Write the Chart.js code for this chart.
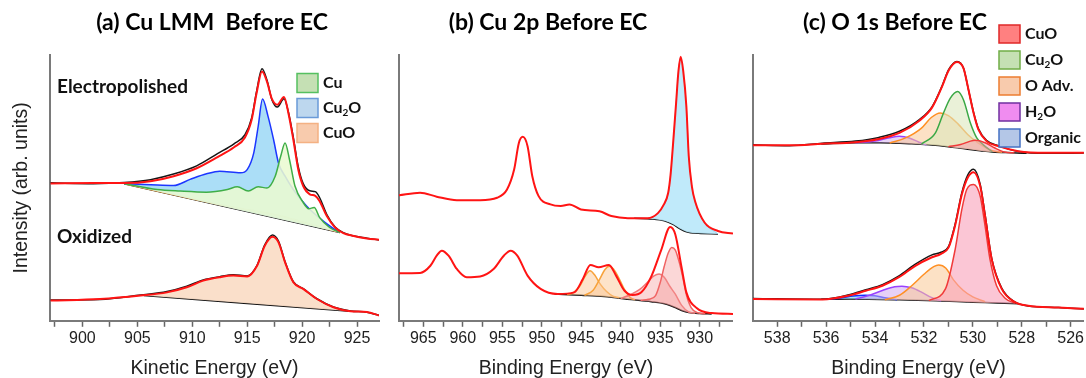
<!DOCTYPE html>
<html>
<head>
<meta charset="utf-8">
<script src="https://cdn.jsdelivr.net/npm/chart.js"></script>
<style>
  html, body { margin: 0; padding: 0; background: #fff; overflow: hidden; }
  #wrap { position: relative; width: 1086px; height: 378px; }
  canvas { position: absolute; top: 0; }
</style>
</head>
<body>
<div id="wrap">
  <canvas id="chartA" width="424" height="378" style="left:0px"></canvas>
  <canvas id="chartB" width="370" height="378" style="left:363px"></canvas>
  <canvas id="chartC" width="382" height="378" style="left:704px"></canvas>
</div>
<script>
// ---- text ----
const titles = ['(a) Cu LMM  Before EC', '(b) Cu 2p Before EC', '(c) O 1s Before EC'];
const spectrumLabels = ['Electropolished', 'Oxidized'];
const legendA = ['Cu', 'Cu₂O', 'CuO'];
const legendC = ['CuO', 'Cu₂O', 'O Adv.', 'H₂O', 'Organic'];
const ticksA = [900, 905, 910, 915, 920, 925];
const ticksB = [930, 935, 940, 945, 950, 955, 960, 965];
const ticksC = [526, 528, 530, 532, 534, 536, 538];

// ---- (a) Cu LMM, [kinetic energy eV, intensity] ----
const aTopFit = [[897.1,51.7],[901.0,51.8],[903.8,51.8],[906.2,52.5],[908.3,54.4],[910.4,57.4],[912.3,61.6],[913.8,65.3],[914.8,69.0],[915.4,75.5],[915.85,85.5],[916.35,93.8],[916.8,90.0],[917.25,83.5],[917.75,81.3],[918.35,84.2],[918.75,78.2],[919.2,68.2],[919.65,56.9],[920.1,50.7],[920.7,47.6],[921.2,47.0],[921.6,45.0],[922.25,39.4],[923.0,35.1],[923.75,33.0],[924.6,32.0],[925.9,31.0],[927.0,30.5]];
const aTopData = [[897.1,51.9],[901.0,51.6],[903.8,52.0],[906.2,53.1],[908.3,55.2],[910.4,58.3],[912.3,62.9],[913.8,66.6],[914.8,70.0],[915.4,76.2],[915.85,86.2],[916.35,94.8],[916.8,90.6],[917.25,83.2],[917.75,80.4],[918.35,83.5],[918.75,78.6],[919.2,69.0],[919.65,58.0],[920.1,51.6],[920.7,48.9],[921.2,48.6],[921.6,46.3],[922.25,40.0],[923.0,35.3],[923.75,33.2],[924.6,32.0],[925.9,31.1],[927.0,30.4]];
const aTopBg = [[903.8,51.6],[923.45,33.2]];
const aTopCu2O = [[903.8,51.6],[906.2,51.2],[908.3,50.9],[909.8,53.2],[911.3,55.3],[912.5,56.3],[914.4,55.7],[915.0,56.9],[915.6,63.2],[916.0,73.1],[916.4,83.4],[916.9,76.9],[917.4,68.2],[917.85,59.4],[918.45,54.4],[919.2,49.4],[920.4,43.2],[921.9,37.6],[923.3,33.4]];
const aTopCu = [[903.8,51.6],[906.8,49.4],[908.9,48.8],[911.3,48.4],[913.2,49.4],[914.1,50.4],[915.1,48.8],[916.0,50.4],[916.8,50.0],[917.55,54.4],[918.05,61.9],[918.45,66.9],[918.85,60.7],[919.35,50.7],[920.1,44.5],[920.6,42.2],[921.1,42.6],[921.6,38.8],[922.5,35.1],[923.45,33.2]];
const aTopCuO = [[903.8,51.6],[910.0,45.9],[914.0,42.5],[916.0,41.1],[918.0,39.5],[920.0,37.2],[922.0,34.9],[923.45,33.2]];
const aBotFit = [[897.1,7.6],[901.6,8.2],[905.3,9.5],[907.7,10.7],[909.5,12.6],[911.0,15.1],[912.5,16.4],[913.75,17.0],[915.0,16.7],[915.9,20.7],[916.6,28.2],[917.3,31.6],[917.85,29.5],[918.45,22.0],[919.2,14.5],[920.1,12.0],[921.35,8.2],[922.85,5.1],[924.4,3.6],[925.9,3.3],[927.0,2.0]];
const aBotData = [[897.1,7.8],[901.6,8.0],[905.3,9.7],[907.7,11.0],[909.5,13.0],[911.0,15.4],[912.5,16.6],[913.75,17.3],[915.0,16.9],[915.9,20.9],[916.6,28.6],[917.3,32.3],[917.85,30.0],[918.45,22.2],[919.2,14.7],[920.1,12.1],[921.35,8.3],[922.85,5.2],[924.4,3.7],[925.9,3.2],[927.0,2.1]];
const aBotBg = [[905.6,9.5],[924.4,3.6]];
const aBotCuO = [[905.6,9.5],[907.7,10.7],[909.5,12.6],[911.0,15.1],[912.5,16.4],[913.75,17.0],[915.0,16.7],[915.9,20.7],[916.6,28.2],[917.3,31.6],[917.85,29.5],[918.45,22.0],[919.2,14.5],[920.1,12.0],[921.35,8.2],[922.85,5.1],[924.4,3.6]];

// ---- (b) Cu 2p, [binding energy eV, intensity] ----
const bTopFit = [[968.1,47.2],[965.4,48.2],[963.3,46.7],[960.75,45.4],[957.8,45.4],[955.65,46.3],[954.4,49.4],[953.5,56.9],[952.9,66.9],[952.4,69.2],[951.8,65.7],[951.2,54.4],[950.4,46.9],[948.9,43.8],[947.6,43.2],[946.5,43.8],[945.05,41.9],[942.7,41.2],[941.2,39.4],[939.1,38.6],[936.6,38.6],[935.3,40.5],[934.6,43.5],[934.0,48.2],[933.7,55.0],[933.4,66.0],[933.0,82.0],[932.7,94.0],[932.42,99.3],[932.1,94.0],[931.7,80.6],[931.4,62.0],[931.0,50.5],[930.6,45.0],[929.4,37.0],[927.7,33.8],[925.8,32.8]];
const bTopBg = [[938.3,38.6],[936.0,38.3],[934.5,37.6],[933.4,36.3],[932.55,34.7],[931.7,33.5],[930.2,32.9],[927.7,32.7]];
const bTopCu = [[938.3,38.6],[936.6,38.6],[935.3,40.4],[934.6,43.3],[934.0,48.0],[933.7,54.8],[933.4,65.8],[933.0,81.8],[932.7,93.8],[932.42,99.0],[932.1,93.8],[931.7,80.4],[931.4,61.8],[931.0,50.2],[930.6,44.7],[929.4,36.8],[927.7,32.7]];
const bBotFit = [[968.1,17.9],[965.4,18.0],[964.1,20.7],[963.3,24.5],[962.65,26.4],[961.8,24.5],[960.75,19.5],[959.5,16.4],[957.8,16.7],[956.1,19.5],[954.8,24.5],[953.95,26.4],[953.1,24.5],[951.8,17.0],[950.15,12.0],[948.0,10.1],[945.9,10.7],[944.8,15.7],[943.85,21.0],[942.8,20.1],[941.5,21.0],[940.6,17.0],[939.55,11.4],[938.5,9.7],[937.4,10.7],[936.15,16.6],[934.9,26.5],[933.75,35.3],[933.1,32.5],[932.3,20.0],[931.7,10.7],[930.4,4.8],[928.5,2.9],[925.8,2.6]];
const bBotBg = [[948.4,10.1],[945.0,9.6],[942.1,9.1],[938.7,8.0],[936.15,7.2],[934.45,6.4],[933.2,5.1],[932.3,3.9],[931.4,3.1],[930.0,2.7],[928.5,2.6]];
const bBotSat1 = [[946.8,9.8],[946.0,10.6],[945.2,13.0],[944.5,16.8],[943.9,18.8],[943.3,17.2],[942.6,13.8],[941.8,11.0],[941.0,9.3],[940.2,8.7]];
const bBotSat2 = [[944.6,9.6],[943.5,11.5],[942.7,15.5],[942.0,19.3],[941.45,20.5],[940.9,19.4],[940.2,15.8],[939.5,11.6],[938.8,8.7],[938.2,7.9]];
const bBotCuOa = [[937.5,7.7],[936.5,8.1],[935.6,9.5],[935.0,14.5],[934.5,20.5],[934.0,25.5],[933.55,27.6],[933.1,26.6],[932.6,22.0],[932.2,17.0],[931.7,9.8],[931.1,5.0],[930.3,3.0],[929.3,2.65]];
const bBotCuOb = [[940.0,8.4],[938.8,9.8],[937.6,11.8],[936.6,14.6],[935.8,16.9],[935.15,17.6],[934.5,16.4],[933.8,13.0],[933.1,10.0],[932.3,5.8],[931.4,3.3],[930.6,2.9]];

// ---- (c) O 1s, [binding energy eV, intensity] ----
const cTopFit = [[539.0,66.0],[537.5,66.0],[536.15,66.6],[534.8,67.2],[533.84,68.4],[533.0,70.7],[532.2,75.2],[531.67,80.2],[531.26,88.1],[530.99,94.2],[530.65,97.4],[530.38,95.0],[530.18,87.0],[529.97,78.2],[529.77,71.9],[529.43,67.5],[528.96,65.7],[528.14,63.8],[527.0,63.2],[525.4,63.2]];
const cTopData = [[539.0,66.2],[537.5,65.9],[536.15,66.8],[534.8,67.6],[533.84,69.0],[533.0,71.3],[532.2,75.6],[531.67,80.5],[531.26,88.3],[530.99,94.5],[530.65,97.6],[530.38,95.0],[530.18,87.0],[529.97,78.4],[529.77,72.2],[529.43,67.8],[528.96,65.9],[528.14,63.7],[527.0,63.0],[525.4,63.1]];
const cTopBg = [[536.2,66.5],[534.8,67.0],[533.8,67.0],[532.5,66.6],[531.8,66.2],[531.0,65.5],[530.4,64.8],[529.7,64.0],[529.2,63.5],[528.4,63.2],[527.8,63.0]];
const cTopCuO = [[531.0,65.5],[530.5,66.3],[530.1,67.6],[529.9,67.9],[529.5,67.0],[529.1,65.0],[528.7,63.5],[528.3,63.2]];
const cTopCu2O = [[532.1,66.5],[531.53,70.7],[531.2,78.2],[530.92,83.8],[530.62,86.3],[530.38,83.1],[530.1,74.4],[529.84,68.8],[529.57,66.2],[529.2,63.5]];
const cTopOAdv = [[533.4,66.9],[532.75,68.8],[532.1,72.5],[531.7,76.5],[531.33,78.2],[531.0,77.2],[530.6,74.0],[530.2,70.0],[529.8,67.0],[529.3,64.3],[528.8,63.4]];
const cTopH2O = [[534.8,67.0],[534.0,67.6],[533.4,68.9],[533.0,69.4],[532.6,68.8],[532.2,67.2],[531.9,66.2]];
const cBotFit = [[539.0,8.2],[536.15,8.0],[535.06,9.5],[534.38,11.3],[533.7,13.2],[533.02,16.4],[532.35,20.7],[531.67,23.9],[531.3,25.2],[530.99,27.6],[530.72,36.0],[530.45,47.5],[530.2,54.0],[529.97,55.9],[529.7,50.7],[529.5,39.4],[529.23,23.2],[528.82,12.0],[528.28,7.0],[527.74,5.7],[526.5,5.0],[525.4,4.5]];
const cBotData = [[539.0,8.4],[536.15,8.1],[535.06,9.8],[534.38,11.7],[533.7,13.6],[533.02,16.9],[532.35,21.3],[531.67,24.8],[531.3,25.8],[530.99,28.0],[530.72,36.5],[530.45,48.2],[530.2,55.0],[529.97,57.0],[529.7,51.4],[529.5,40.0],[529.23,23.6],[528.82,12.3],[528.28,7.1],[527.74,5.6],[526.5,5.0],[525.4,4.4]];
const cBotBg = [[536.2,8.1],[535.0,8.2],[533.0,7.9],[531.5,7.5],[530.0,7.0],[529.0,6.7],[528.1,6.4]];
const cBotCuO = [[531.8,7.6],[531.12,12.0],[530.72,27.0],[530.45,41.9],[530.25,49.4],[529.97,51.3],[529.7,46.9],[529.5,35.7],[529.3,23.2],[529.03,13.2],[528.68,8.5],[528.28,6.6]];
const cBotOAdv = [[533.6,7.9],[533.0,9.6],[532.5,13.2],[532.0,17.5],[531.6,20.4],[531.4,21.0],[531.1,19.8],[530.8,15.5],[530.4,11.5],[530.0,9.0],[529.5,7.2]];
const cBotH2O = [[534.8,8.2],[534.3,9.4],[533.7,11.4],[533.2,12.8],[532.9,13.0],[532.5,12.4],[532.1,10.8],[531.7,8.8],[531.3,7.5]];
const cBotOrganic = [[536.0,8.1],[535.4,8.6],[534.9,9.3],[534.4,9.6],[534.0,9.4],[533.6,8.7],[533.1,7.9]];

Chart.defaults.font.family = 'Liberation Sans';
const RED = '#ff1414';
const BLACK = '#161616';

function pts(arr) {
  return arr.map(([x, y]) => ({x, y})).sort((a, b) => a.x - b.x);
}

// first entry is drawn on top; "to" names the background curve a component is filled down to
function build(list) {
  const idx = {};
  list.forEach((d, i) => { idx[d.id] = i; });
  return list.map(d => ({
    data: pts(d.data),
    borderColor: d.color,
    borderWidth: d.width || 1.5,
    backgroundColor: d.fill || 'transparent',
    fill: d.to ? {target: idx[d.to]} : false,
    pointRadius: 0,
    cubicInterpolationMode: 'monotone'
  }));
}

function drawRich(ctx, text, x, y, size) {
  const parts = text.split('₂');
  let cx = x;
  parts.forEach((p, i) => {
    ctx.font = `bold ${size}px Lato`;
    ctx.fillText(p, cx, y);
    cx += ctx.measureText(p).width;
    if (i < parts.length - 1) {
      ctx.font = `bold ${Math.round(size * 0.62)}px Lato`;
      ctx.fillText('2', cx, y + size * 0.3);
      cx += ctx.measureText('2').width;
    }
  });
}

const panelText = {
  id: 'panelText',
  afterDatasetsDraw(chart, args, opts) {
    const ctx = chart.ctx;
    ctx.save();
    ctx.textBaseline = 'middle';
    ctx.fillStyle = '#111';
    (opts.labels || []).forEach(l => {
      ctx.font = `bold ${l.size}px Lato`;
      ctx.fillText(l.text, l.x, l.y);
    });
    const lg = opts.legend;
    if (lg) {
      lg.items.forEach((label, i) => {
        const y = lg.y + i * lg.step;
        ctx.fillStyle = lg.fills[i];
        ctx.fillRect(lg.x, y - lg.h / 2, lg.w, lg.h);
        ctx.strokeStyle = lg.strokes[i];
        ctx.lineWidth = 1.5;
        ctx.strokeRect(lg.x, y - lg.h / 2, lg.w, lg.h);
        ctx.fillStyle = '#111';
        drawRich(ctx, label, lg.x + lg.w + 5, y, lg.size);
      });
    }
    ctx.restore();
  }
};

function makeChart(id, cfg) {
  return new Chart(document.getElementById(id), {
    type: 'line',
    data: {datasets: build(cfg.series)},
    options: {
      responsive: false,
      animation: false,
      devicePixelRatio: 1,
      layout: {padding: 0},
      plugins: {
        legend: {display: false},
        tooltip: {enabled: false},
        title: {
          display: true, text: cfg.title, color: '#000',
          font: {family: 'Lato', weight: 'bold', size: 23, lineHeight: 1.2},
          padding: {top: 9, bottom: 18.4}
        },
        panelText: cfg.notes
      },
      scales: {
        x: {
          type: 'linear', min: cfg.xMin, max: cfg.xMax, reverse: cfg.reverse,
          border: {color: '#7a7a7a', width: 2},
          grid: {display: true, drawOnChartArea: false, drawTicks: true, tickLength: 6, tickColor: '#666', tickWidth: 1.5},
          ticks: {
            stepSize: cfg.step, autoSkip: false, includeBounds: false, maxRotation: 0, padding: 2,
            color: '#222', font: {size: 16},
            callback: v => cfg.labels.some(t => Math.abs(t - v) < 1e-6) ? String(Math.round(v)) : ''
          },
          title: {display: true, text: cfg.xTitle, color: '#222', font: {size: 19.5, lineHeight: 1}, padding: {top: 8.5, bottom: 0}}
        },
        y: {
          min: 0, max: 100,
          ticks: {display: false},
          grid: {display: false, drawTicks: false},
          border: {color: '#7a7a7a', width: 2},
          title: {display: !!cfg.yTitle, text: cfg.yTitle || '', color: '#222', font: {size: 19.5, lineHeight: 1}, padding: {top: 11.5, bottom: 19}},
          afterFit: s => { s.width = cfg.yWidth; }
        },
        yPad: {
          position: 'right', display: true,
          ticks: {display: false},
          grid: {display: false, drawTicks: false},
          border: {display: false},
          afterFit: s => { s.width = cfg.rightPad; }
        }
      }
    },
    plugins: [panelText]
  });
}

makeChart('chartA', {
  title: titles[0], xTitle: 'Kinetic Energy (eV)', yTitle: 'Intensity (arb. units)',
  xMin: 897.05, xMax: 927.0, reverse: false, step: 2.5, labels: ticksA, yWidth: 50, rightPad: 45,
  series: [
    {id: 'fitTop', data: aTopFit, color: RED, width: 2},
    {id: 'fitBot', data: aBotFit, color: RED, width: 2},
    {id: 'dataTop', data: aTopData, color: BLACK},
    {id: 'dataBot', data: aBotData, color: BLACK},
    {id: 'cu', data: aTopCu, color: '#3fae48', fill: 'rgba(234,250,210,0.88)', to: 'bgTop'},
    {id: 'cu2o', data: aTopCu2O, color: '#1c36ff', fill: 'rgba(150,214,245,0.8)', to: 'bgTop'},
    {id: 'cuoTop', data: aTopCuO, color: '#f5a040', fill: 'rgba(250,215,190,0.6)', to: 'bgTop'},
    {id: 'cuoBot', data: aBotCuO, color: 'rgba(0,0,0,0)', fill: 'rgba(250,219,196,0.9)', to: 'bgBot'},
    {id: 'bgTop', data: aTopBg, color: '#111'},
    {id: 'bgBot', data: aBotBg, color: '#111'}
  ],
  notes: {
    labels: [
      {text: spectrumLabels[0], x: 57, y: 87, size: 19},
      {text: spectrumLabels[1], x: 57, y: 237, size: 19}
    ],
    legend: {
      items: legendA, x: 297, y: 83, step: 25, w: 21, h: 19, size: 16,
      fills: ['#c5e0b4', '#bdd7ee', '#f8cbad'],
      strokes: ['#55c060', '#6a9ad8', '#f4b183']
    }
  }
});

makeChart('chartB', {
  title: titles[1], xTitle: 'Binding Energy (eV)',
  xMin: 925.8, xMax: 968.07, reverse: true, step: 2.5, labels: ticksB, yWidth: 36, rightPad: 0,
  series: [
    {id: 'fitTop', data: bTopFit, color: RED, width: 2},
    {id: 'fitBot', data: bBotFit, color: RED, width: 2},
    {id: 'cu', data: bTopCu, color: '#8fd3f2', width: 1, fill: 'rgba(185,232,250,0.9)', to: 'bgTop'},
    {id: 'cuoA', data: bBotCuOa, color: '#f06464', fill: 'rgba(245,150,150,0.38)', to: 'bgBot'},
    {id: 'cuoB', data: bBotCuOb, color: '#f07878', fill: 'rgba(245,150,150,0.38)', to: 'bgBot'},
    {id: 'sat2', data: bBotSat2, color: '#f7a23a', fill: 'rgba(252,200,150,0.5)', to: 'bgBot'},
    {id: 'sat1', data: bBotSat1, color: '#f7a23a', fill: 'rgba(252,200,150,0.5)', to: 'bgBot'},
    {id: 'bgTop', data: bTopBg, color: '#111'},
    {id: 'bgBot', data: bBotBg, color: '#111'}
  ],
  notes: {}
});

makeChart('chartC', {
  title: titles[2], xTitle: 'Binding Energy (eV)',
  xMin: 525.46, xMax: 538.99, reverse: true, step: 1, labels: ticksC, yWidth: 49, rightPad: 0,
  series: [
    {id: 'fitTop', data: cTopFit, color: RED, width: 2},
    {id: 'fitBot', data: cBotFit, color: RED, width: 2},
    {id: 'dataTop', data: cTopData, color: BLACK},
    {id: 'dataBot', data: cBotData, color: BLACK},
    {id: 'cuoTop', data: cTopCuO, color: '#f03a3a', fill: 'rgba(248,150,170,0.5)', to: 'bgTop'},
    {id: 'cuoBot', data: cBotCuO, color: '#f03a3a', fill: 'rgba(248,160,185,0.6)', to: 'bgBot'},
    {id: 'cu2oTop', data: cTopCu2O, color: '#3aa845', fill: 'rgba(220,232,190,0.6)', to: 'bgTop'},
    {id: 'oadvTop', data: cTopOAdv, color: '#ff9024', fill: 'rgba(250,200,150,0.55)', to: 'bgTop'},
    {id: 'oadvBot', data: cBotOAdv, color: '#ff9024', fill: 'rgba(250,200,150,0.55)', to: 'bgBot'},
    {id: 'h2oTop', data: cTopH2O, color: '#9a42ff', fill: 'rgba(210,170,240,0.5)', to: 'bgTop'},
    {id: 'h2oBot', data: cBotH2O, color: '#9a42ff', fill: 'rgba(210,170,240,0.55)', to: 'bgBot'},
    {id: 'orgBot', data: cBotOrganic, color: '#1530ff', fill: 'rgba(120,210,240,0.6)', to: 'bgBot'},
    {id: 'bgTop', data: cTopBg, color: '#111'},
    {id: 'bgBot', data: cBotBg, color: '#111'}
  ],
  notes: {
    legend: {
      items: legendC, x: 295, y: 34, step: 26, w: 21, h: 18, size: 16,
      fills: ['#ff8080', '#c5e0b4', '#f8cbad', '#f08cf0', '#b4c7e7'],
      strokes: ['#e02828', '#70ad47', '#ed7d31', '#7030a0', '#4472c4']
    }
  }
});
</script>
</body>
</html>
